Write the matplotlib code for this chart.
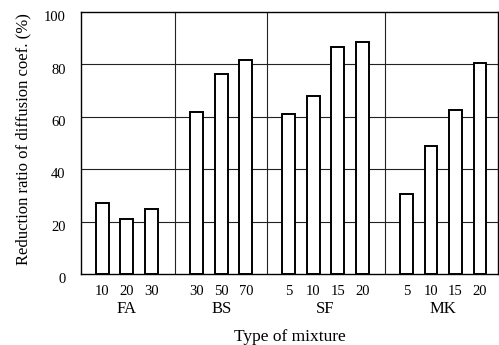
import matplotlib.pyplot as plt
import matplotlib.transforms as mtransforms

plt.rcParams['font.family'] = ['Liberation Serif', 'DejaVu Serif']

groups = ['FA', 'BS', 'SF', 'MK']
levels = [[10, 20, 30], [30, 50, 70], [5, 10, 15, 20], [5, 10, 15, 20]]
values = [[27, 21, 25], [62, 76.5, 81.5], [61, 68, 86.5, 88.5], [30.5, 49, 62.5, 80.5]]

# group boundaries along x (one unit = one bar slot)
edges = [0, 3.85, 7.6, 12.4, 17.0]
first_offset = 0.87

fig = plt.figure(figsize=(4.99, 3.45), dpi=100)
ax = fig.add_axes([0.1623, 0.2058, 0.8357, 0.7594])

xs, hs, labs = [], [], []
for g, (lv, vals) in enumerate(zip(levels, values)):
    for i, (l, v) in enumerate(zip(lv, vals)):
        xs.append(edges[g] + first_offset + i)
        hs.append(v)
        labs.append(str(l))

ax.bar(xs, hs, width=0.52, color='white', edgecolor='black', linewidth=1.4, zorder=3)

for y in [20, 40, 60, 80]:
    ax.axhline(y, color='#222222', linewidth=0.8, zorder=1)
for x in edges[1:-1]:
    ax.axvline(x, color='#222222', linewidth=0.8, zorder=1)

ax.set_xlim(edges[0], edges[-1])
ax.set_ylim(0, 100)
ax.set_yticks([0, 20, 40, 60, 80, 100])
ax.set_xticks(xs)
ax.set_xticklabels(labs)
ax.tick_params(axis='both', length=0, labelsize=10.5)
ax.tick_params(axis='y', pad=11)
ax.tick_params(axis='x', pad=8)
# y labels sit slightly below their gridlines
shift = mtransforms.ScaledTranslation(0, -3 / 72, fig.dpi_scale_trans)
for t in ax.get_yticklabels():
    t.set_transform(t.get_transform() + shift)
for s in ax.spines.values():
    s.set_linewidth(1.0)

for g, name in enumerate(groups):
    n = len(levels[g])
    cx = edges[g] + first_offset + (n - 1) / 2
    ax.text(cx, -0.134, name, transform=ax.get_xaxis_transform(),
            ha='center', va='center', fontsize=12)

ax.set_xlabel('Type of mixture', fontsize=12.5, labelpad=22)
ax.set_ylabel('Reduction ratio of diffusion coef. (%)', fontsize=12)
ax.yaxis.set_label_coords(-0.12, 0.515)

fig.savefig('out.png', dpi=100)
